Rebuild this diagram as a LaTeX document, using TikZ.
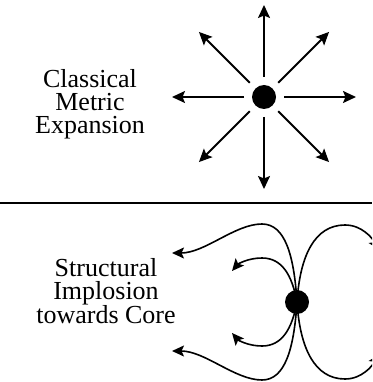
\documentclass[tikz,border=0pt]{standalone}
\usepackage{fontspec}
\setmainfont{Liberation Serif}
\usetikzlibrary{arrows.meta,calc}
\tikzset{
  arr/.style={line width=1.8pt,-{Stealth[length=13pt,width=12pt,inset=2.5pt]}},
  curvearr/.style={line width=1.6pt,-{Stealth[length=12pt,width=11pt,inset=2.5pt]}},
  dotnode/.style={circle,fill=black,inner sep=0pt,minimum size=24pt},
  label/.style={align=center,inner sep=0pt,font=\fontsize{26pt}{23pt}\selectfont},
  sepline/.style={line width=1.8pt}
}
\begin{document}
\begin{tikzpicture}[x=1pt,y=-1pt]
\useasboundingbox (0,0) rectangle (372,382);
\clip (0,0) rectangle (372,382);
% top part
\node[label] (t1) at (90,104) {Classical\\Metric\\Expansion};
\node[dotnode] (d1) at (264,97) {};
\foreach \a in {0,45,...,315}{
  \draw[arr] ($(d1.center)+(\a:20)$) -- ($(d1.center)+(\a:92)$);
}
% separator
\coordinate (sl) at (0,203);
\coordinate (sr) at (372,203);
\draw[sepline] (sl) -- (sr);
% bottom part
\node[label] (t2) at (106,291) {Structural\\Implosion\\towards Core};
\node[dotnode] (d2) at (297,302) {};
\coordinate (c) at (297,302);
% left, upper
\draw[curvearr] (c) .. controls (294,255) and (285,224) .. (262,224) .. controls (235,224) and (205,253) .. (172,253);
\draw[curvearr] (c) .. controls (292,275) and (282,258) .. (262,258) .. controls (248,258) and (238,264) .. (232,271);
% left, lower
\draw[curvearr] (c) .. controls (294,349) and (285,380) .. (262,380) .. controls (235,380) and (205,351) .. (172,351);
\draw[curvearr] (c) .. controls (292,329) and (282,346) .. (262,346) .. controls (248,346) and (238,340) .. (232,333);
% right
\draw[curvearr] (c) .. controls (300,255) and (315,225) .. (345,225) .. controls (362,225) and (372,238) .. (380,250);
\draw[curvearr] (c) .. controls (300,349) and (315,379) .. (345,379) .. controls (362,379) and (372,366) .. (380,354);
\end{tikzpicture}
\end{document}
